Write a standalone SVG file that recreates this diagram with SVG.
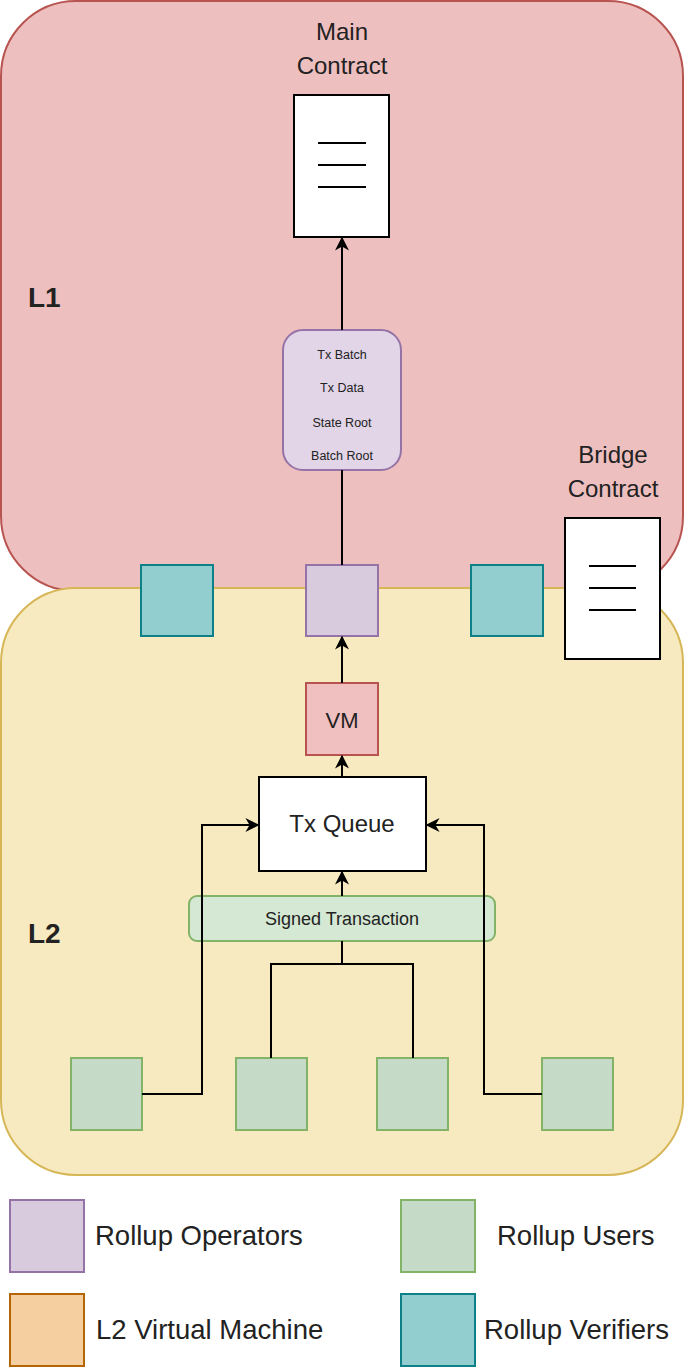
<svg xmlns="http://www.w3.org/2000/svg" width="685" height="1367" viewBox="0 0 685 1367">
<style>
text{font-family:"Liberation Sans",Arial,sans-serif;fill:#222}
.c{stroke:#000;stroke-width:2;fill:none}
.ver{fill:#92cdd0;stroke:#0e8088;stroke-width:2}
.op{fill:#d9cbde;stroke:#9673a6;stroke-width:2}
.us{fill:#c5dbc8;stroke:#82b366;stroke-width:2}
.doc{fill:#fff;stroke:#000;stroke-width:2}
</style>
<defs><marker id="a" viewBox="0 0 10 10" refX="9" refY="5" markerWidth="7" markerHeight="7" orient="auto"><path d="M0,0L10,5L0,10L3,5Z" fill="#000"/></marker></defs>
<g id="L1"><rect x="1" y="1" width="682" height="590" rx="75" fill="#eebfbf" stroke="#b85450" stroke-width="2"/><text x="28" y="307" font-size="28" font-weight="bold" fill="#000">L1</text></g>
<g id="L2"><rect x="1" y="588" width="682" height="587" rx="75" fill="#f8eac0" stroke="#d6b656" stroke-width="2"/><text x="28" y="943" font-size="28" font-weight="bold" fill="#000">L2</text></g>
<g id="main"><text x="342" y="40" font-size="24" text-anchor="middle">Main</text><text x="342" y="74" font-size="24" text-anchor="middle">Contract</text><rect class="doc" x="294" y="95" width="95" height="142"/><path class="c" d="M318 143H366M318 165H366M318 187H366"/></g>
<g id="bridge"><text x="613" y="463" font-size="24" text-anchor="middle">Bridge</text><text x="613" y="497" font-size="24" text-anchor="middle">Contract</text><rect class="doc" x="565" y="518" width="95" height="141"/><path class="c" d="M589 566H636M589 588H636M589 610H636"/></g>
<g id="batch"><rect x="283" y="330" width="118" height="140" rx="20" fill="#e1d5e7" stroke="#9673a6" stroke-width="2"/><g font-size="12.5" text-anchor="middle"><text x="342" y="359">Tx Batch</text><text x="342" y="392">Tx Data</text><text x="342" y="427">State Root</text><text x="342" y="460">Batch Root</text></g></g>
<g id="verifier1"><rect class="ver" x="141" y="565" width="72" height="71"/></g>
<g id="operator"><rect class="op" x="306" y="565" width="72" height="71"/></g>
<g id="verifier2"><rect class="ver" x="471" y="565" width="72" height="71"/></g>
<g id="vm"><rect x="306" y="683" width="72" height="72" fill="#f0bfbf" stroke="#b85450" stroke-width="2"/><text x="342" y="728" font-size="22" text-anchor="middle">VM</text></g>
<g id="queue"><rect x="259" y="777" width="167" height="94" fill="#fff" stroke="#000" stroke-width="2"/><text x="342" y="832" font-size="24" text-anchor="middle" fill="#000">Tx Queue</text></g>
<g id="signed"><rect x="189" y="896" width="306" height="45" rx="8" fill="#d5e8d4" stroke="#82b366" stroke-width="2"/><text x="342" y="925" font-size="18" text-anchor="middle" fill="#333">Signed Transaction</text></g>
<g id="user1"><rect class="us" x="71" y="1058" width="71" height="72"/></g>
<g id="user2"><rect class="us" x="236" y="1058" width="71" height="72"/></g>
<g id="user3"><rect class="us" x="377" y="1058" width="71" height="72"/></g>
<g id="user4"><rect class="us" x="542" y="1058" width="71" height="72"/></g>
<g id="connectors">
<path class="c" d="M342 330V238" marker-end="url(#a)"/>
<path class="c" d="M342 470V565"/>
<path class="c" d="M342 683V637" marker-end="url(#a)"/>
<path class="c" d="M342 777V756" marker-end="url(#a)"/>
<path class="c" d="M342 896V872" marker-end="url(#a)"/>
<path class="c" d="M271 1058V964H413V1058M342 964V941"/>
<path class="c" d="M142 1094H202V825H258" marker-end="url(#a)"/>
<path class="c" d="M542 1094H484V825H427" marker-end="url(#a)"/>
</g>
<g id="legend" font-size="27.5">
<rect class="op" x="10" y="1200" width="74" height="72"/><text x="95" y="1245">Rollup Operators</text>
<rect class="us" x="401" y="1200" width="74" height="72"/><text x="497" y="1245">Rollup Users</text>
<rect x="10" y="1294" width="74" height="72" fill="#f5cfa0" stroke="#b46504" stroke-width="2"/><text x="96" y="1339">L2 Virtual Machine</text>
<rect class="ver" x="401" y="1294" width="74" height="72"/><text x="484" y="1339">Rollup Verifiers</text>
</g>
</svg>
